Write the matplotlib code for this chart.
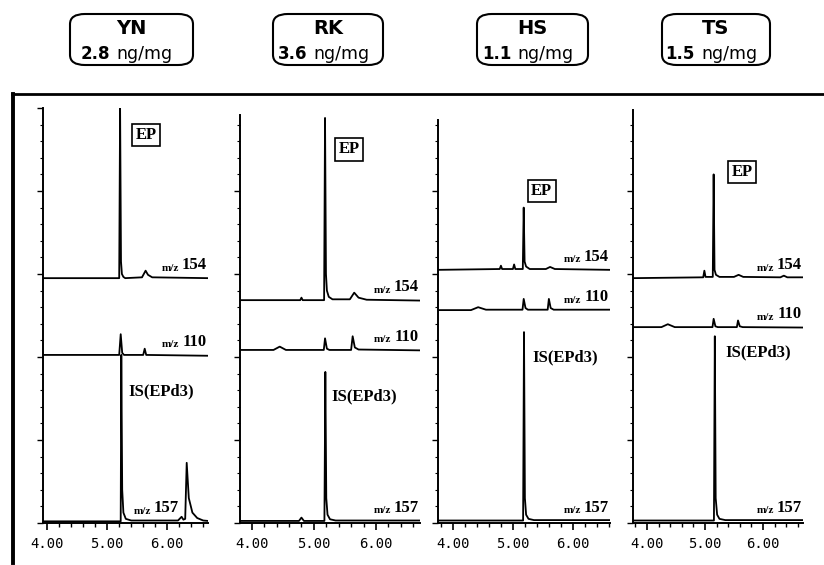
import matplotlib
matplotlib.use("Agg")
import matplotlib.pyplot as plt
from matplotlib.patches import FancyBboxPatch
from matplotlib.lines import Line2D
from matplotlib.ticker import MultipleLocator, FixedLocator

# ---------------- data ----------------
samples = ["YN", "RK", "HS", "TS"]
concentrations = ["2.8", "3.6", "1.1", "1.5"]
unit = "ng/mg"
ion_labels = ["154", "110", "157"]
tick_values = [4.0, 5.0, 6.0]
tick_labels = ["4.00", "5.00", "6.00"]

# YN
yn_t154 = [3.93, 5.20, 5.215, 5.23, 5.245, 5.27, 5.30, 5.58, 5.64, 5.68, 5.75, 6.68]
yn_y154 = [59.0, 59.0, 100.0, 63.0, 60.0, 59.3, 59.0, 59.2, 60.8, 59.8, 59.2, 59.0]
yn_t110 = [3.93, 5.20, 5.225, 5.25, 5.28, 5.60, 5.625, 5.65, 6.68]
yn_y110 = [40.5, 40.5, 45.5, 41.0, 40.5, 40.5, 42.0, 40.5, 40.3]
yn_t157 = [3.93, 5.225, 5.235, 5.25, 5.27, 5.31, 5.40, 6.18, 6.24, 6.27, 6.30, 6.325,
           6.36, 6.42, 6.50, 6.60, 6.68]
yn_y157 = [0.4, 0.4, 40.5, 8.0, 2.5, 1.0, 0.6, 0.6, 1.5, 0.8, 1.0, 14.5,
           6.0, 2.5, 1.2, 0.6, 0.5]

# RK
rk_t154 = [3.81, 4.78, 4.80, 4.82, 5.165, 5.18, 5.195, 5.21, 5.24, 5.30, 5.58, 5.65,
           5.72, 5.85, 6.71]
rk_y154 = [53.7, 53.7, 54.3, 53.7, 53.7, 97.6, 60.0, 56.0, 54.5, 53.9, 53.9, 55.5,
           54.3, 53.8, 53.6]
rk_t110 = [3.81, 4.35, 4.45, 4.55, 5.16, 5.18, 5.21, 5.25, 5.60, 5.625, 5.66, 5.72, 6.71]
rk_y110 = [41.7, 41.7, 42.5, 41.7, 41.7, 44.5, 42.0, 41.7, 41.7, 45.0, 42.3, 41.8, 41.6]
rk_t157 = [3.81, 4.76, 4.80, 4.84, 5.17, 5.185, 5.20, 5.22, 5.26, 5.35, 6.71]
rk_y157 = [0.5, 0.5, 1.3, 0.5, 0.5, 36.4, 6.0, 2.0, 0.9, 0.6, 0.6]

# HS
hs_t154 = [3.75, 4.78, 4.80, 4.82, 5.00, 5.02, 5.04, 5.165, 5.18, 5.195, 5.22, 5.28,
           5.55, 5.62, 5.70, 6.62]
hs_y154 = [61.0, 61.2, 62.0, 61.2, 61.2, 62.3, 61.2, 61.2, 76.0, 63.0, 61.8, 61.2,
           61.2, 61.7, 61.2, 61.0]
hs_t110 = [3.75, 4.30, 4.42, 4.55, 5.16, 5.18, 5.21, 5.25, 5.58, 5.60, 5.63, 5.68, 6.62]
hs_y110 = [51.3, 51.3, 52.0, 51.4, 51.4, 54.0, 51.8, 51.4, 51.4, 54.0, 51.8, 51.4, 51.4]
hs_t157 = [3.75, 5.17, 5.185, 5.20, 5.22, 5.26, 5.35, 6.62]
hs_y157 = [0.6, 0.6, 46.0, 6.0, 2.0, 1.0, 0.7, 0.7]

# TS
ts_t154 = [3.76, 4.97, 4.99, 5.01, 5.135, 5.15, 5.165, 5.19, 5.25, 5.50, 5.58, 5.66,
           6.30, 6.36, 6.42, 6.69]
ts_y154 = [59.0, 59.2, 60.8, 59.3, 59.3, 84.0, 61.0, 59.8, 59.3, 59.3, 59.8, 59.3,
           59.2, 59.6, 59.2, 59.2]
ts_t110 = [3.76, 4.25, 4.36, 4.48, 5.13, 5.15, 5.18, 5.22, 5.55, 5.57, 5.60, 5.65, 6.69]
ts_y110 = [47.2, 47.2, 47.9, 47.2, 47.2, 49.2, 47.4, 47.2, 47.2, 48.8, 47.4, 47.2, 47.1]
ts_t157 = [3.76, 5.155, 5.17, 5.185, 5.21, 5.25, 5.35, 6.69]
ts_y157 = [0.6, 0.6, 45.0, 6.0, 2.0, 1.0, 0.7, 0.7]

traces = [
    [(yn_t154, yn_y154), (yn_t110, yn_y110), (yn_t157, yn_y157)],
    [(rk_t154, rk_y154), (rk_t110, rk_y110), (rk_t157, rk_y157)],
    [(hs_t154, hs_y154), (hs_t110, hs_y110), (hs_t157, hs_y157)],
    [(ts_t154, ts_y154), (ts_t110, ts_y110), (ts_t157, ts_y157)],
]

# ---------------- layout ----------------
W, H = 824, 565
fig = plt.figure(figsize=(W / 100, H / 100), dpi=100)

def fx(px):
    return px / W

def fy(py):
    return 1 - py / H

ax_left_px = [43, 240, 438, 633]
ax_right_px = [208, 420, 610, 803]
ax_bottom_px = 523
ax_top_px = 108
xlims = [(3.93, 6.68), (3.81, 6.71), (3.75, 6.62), (3.76, 6.69)]
spine_tops = [100, 98.3, 97, 99.5]
ep_pos = [(5.65, 93.5), (5.57, 90), (5.48, 80), (5.64, 84.6)]
is_pos = [(5.35, 31.6), (5.29, 30.4), (5.32, 39.8), (5.35, 41.0)]
label157_x = [6.22, None, None, None]
box_x_px = [(70, 193), (273, 383), (477, 588), (662, 770)]

serif = ["Liberation Serif", "DejaVu Serif"]
sans = ["DejaVu Sans"]

for i in range(4):
    l, r = ax_left_px[i], ax_right_px[i]
    ax = fig.add_axes([fx(l), fy(ax_bottom_px), fx(r - l), (ax_bottom_px - ax_top_px) / H])
    ax.set_xlim(*xlims[i])
    ax.set_ylim(0, 100)
    ax.patch.set_alpha(0)
    for s in ["top", "right"]:
        ax.spines[s].set_visible(False)
    for s in ["left", "bottom"]:
        ax.spines[s].set_linewidth(1.4)
    ax.spines["left"].set_bounds(0, spine_tops[i])

    ax.xaxis.set_major_locator(FixedLocator(tick_values))
    ax.set_xticklabels(tick_labels, family="DejaVu Sans Mono", fontsize=10)
    ax.xaxis.set_minor_locator(MultipleLocator(0.2))
    ax.tick_params(axis="x", which="major", direction="out", length=5, width=1.2, pad=5)
    ax.tick_params(axis="x", which="minor", direction="out", length=3, width=1.0)
    ax.yaxis.set_major_locator(FixedLocator([v for v in range(0, 101, 20) if v <= spine_tops[i]]))
    ax.yaxis.set_minor_locator(FixedLocator([v for v in range(0, 101, 4) if v <= spine_tops[i]]))
    ax.tick_params(axis="y", which="major", direction="out", length=4, width=1.0, labelleft=False)
    ax.tick_params(axis="y", which="minor", direction="out", length=2.5, width=0.8)

    for j, (t, y) in enumerate(traces[i]):
        ax.plot(t, y, color="black", lw=1.3, solid_joinstyle="round")
        base = y[0]
        xr = label157_x[i] if (j == 2 and label157_x[i] is not None) else xlims[i][1]
        ax.annotate(ion_labels[j], xy=(xr, base), xytext=(-1, 3.5), textcoords="offset points",
                    ha="right", va="bottom", family=serif, fontweight="bold", fontsize=12)
        ax.annotate("m/z", xy=(xr, base), xytext=(-21, 4), textcoords="offset points",
                    ha="right", va="bottom", family=serif, fontweight="bold", fontsize=8)

    ax.text(ep_pos[i][0], ep_pos[i][1], "EP", ha="center", va="center", family=serif,
            fontweight="bold", fontsize=12,
            bbox=dict(boxstyle="square,pad=0.2", fc="white", ec="black", lw=1.2))
    ax.text(is_pos[i][0], is_pos[i][1], "IS(EPd3)", ha="left", va="center", family=serif,
            fontweight="bold", fontsize=12)

    # header box
    bx0, bx1 = box_x_px[i]
    by0, by1 = 14, 65
    box = FancyBboxPatch((fx(bx0), fy(by1)), fx(bx1 - bx0), (by1 - by0) / H,
                         boxstyle="round,pad=0,rounding_size=0.018",
                         transform=fig.transFigure, fc="white", ec="black", lw=1.5)
    fig.patches.append(box)
    cx = (bx0 + bx1) / 2
    fig.text(fx(cx), fy(29), samples[i], ha="center", va="center", family=sans,
             fontweight="bold", fontsize=14)
    fig.text(fx(cx - 21), fy(54), concentrations[i], ha="right", va="center", family=sans,
             fontweight="bold", fontsize=12)
    fig.text(fx(cx - 15), fy(54), unit, ha="left", va="center", family=sans,
             fontsize=12.5)

# outer frame lines
fig.add_artist(Line2D([fx(12), fx(824)], [fy(94), fy(94)], transform=fig.transFigure,
                      color="black", lw=2.0))
fig.add_artist(Line2D([fx(13), fx(13)], [fy(94), fy(563)], transform=fig.transFigure,
                      color="black", lw=2.8))

fig.savefig("out.png", dpi=100)
